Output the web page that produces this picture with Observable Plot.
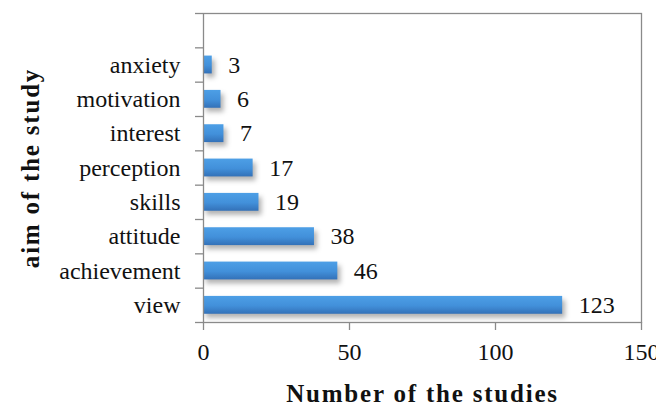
<!DOCTYPE html>
<html><head><meta charset="utf-8">
<script src="https://cdn.jsdelivr.net/npm/d3@7"></script>
<script src="https://cdn.jsdelivr.net/npm/@observablehq/plot@0.6"></script>
<style>
body{margin:0;background:#fff;}
g[font-weight="bold"] text{letter-spacing:1.8px;}
</style></head><body><div id="chart"></div>
<script>
const categories = ["view","achievement","attitude","skills","perception","interest","motivation","anxiety"];
const values = [123,46,38,19,17,7,6,3];
const xTicks = [0,50,100,150];
const xTitle = "Number of the studies";
const yTitle = "aim of the study";

const data = categories.map((c,i)=>({category:c, value:values[i], i}));
const nBands = categories.length + 1;

const chart = Plot.plot({
  width: 656, height: 406,
  marginLeft: 203, marginRight: 15, marginTop: 13, marginBottom: 84,
  style: {fontFamily: "'Liberation Serif', serif", color:"#111", background:"#fff"},
  x: {domain:[0,150]},
  y: {domain:[0, nBands]},
  marks: [
    Plot.rectX(data, {x1:0, x2:"value", y1:d=>d.i+0.24, y2:d=>d.i+0.76, fill:"url(#barGrad)", imageFilter:"drop-shadow(3px 4px 2.5px rgba(0,0,0,0.3))"}),
    Plot.frame({stroke:"#8a8a8a", strokeWidth:1.3}),
    Plot.axisY({ticks: d3.range(0, nBands+1), tickFormat: ()=>"", tickSize:8, stroke:"#8a8a8a", strokeWidth:1.3, label:null}),
    Plot.axisY({ticks: data.map(d=>d.i+0.5), tickFormat: v=>categories[Math.floor(v)], tickSize:0, tickPadding:23, fontSize:24, label:null}),
    Plot.axisX({ticks:xTicks, tickSize:8, tickPadding:12, fontSize:24, stroke:"#8a8a8a", strokeWidth:1.3, label:null}),
    Plot.text(data, {x:"value", y:d=>d.i+0.5, text:d=>String(d.value), dx:16, textAnchor:"start", fontSize:24}),
    Plot.text([xTitle], {frameAnchor:"bottom", textAnchor:"middle", dy:79, fontSize:25, fontWeight:"bold"}),
    Plot.text([yTitle], {frameAnchor:"left", textAnchor:"middle", dx:-173, rotate:-90, fontSize:25, fontWeight:"bold"})
  ]
});
const svg = d3.select(chart);
const defs = svg.insert("defs", ":first-child");
const grad = defs.append("linearGradient").attr("id","barGrad").attr("x1",0).attr("y1",0).attr("x2",0).attr("y2",1);
grad.append("stop").attr("offset","0%").attr("stop-color","#4d9fe6");
grad.append("stop").attr("offset","55%").attr("stop-color","#4290da");
grad.append("stop").attr("offset","100%").attr("stop-color","#3371b8");
document.getElementById("chart").appendChild(chart);
</script></body></html>
